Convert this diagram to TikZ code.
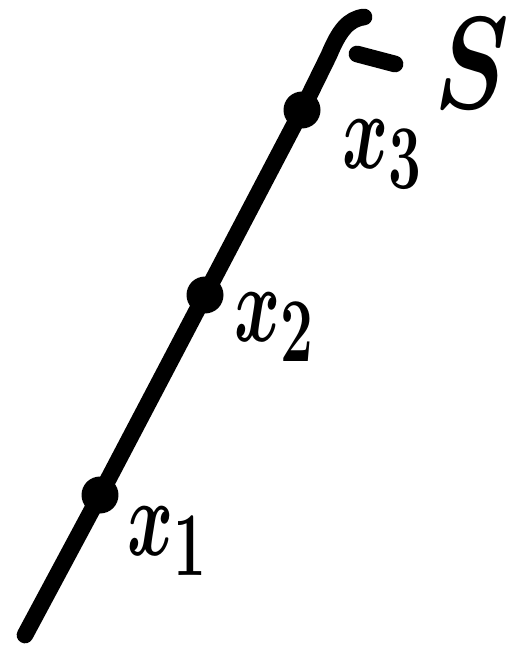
\documentclass[tikz,border=0pt]{standalone}
\usepackage{amsmath,amssymb}
\usepackage{tikz}
\usetikzlibrary{calc}
\tikzset{
  curve/.style ={line width=9.5pt,line cap=round,line join=round},
  pt/.style    ={circle,fill=black,minimum size=0.74cm,inner sep=0pt},
  lab/.style   ={inner sep=0pt,xscale=1.6,yscale=2.5,font=\Huge\boldmath},
  setlab/.style={inner sep=0pt,xscale=2.3,yscale=3.0,font=\Huge\boldmath},
}

\begin{document}
\begin{tikzpicture}[x=0.02cm,y=-0.02cm]
  \useasboundingbox (0,0) rectangle (530,651);
  % the set and its points
  \coordinate (bot) at (25,635);
  \coordinate (bend) at (329,55);
  \coordinate (top) at (364,17);
  \foreach \i/\x/\y in {1/100/495,2/205/295,3/302/110}{
     \node[pt] (p\i) at (\x,\y){};
  }
  \draw[curve] (bot)--(p1.center)--(p2.center)--(p3.center)--(bend)
     .. controls (339,31) and (348,19) .. (top);
  % labels
  \node[lab] (l1) at (168,541){$x_1$};
  \node[lab] (l2) at (275,327){$x_2$};
  \node[lab] (l3) at (383,154){$x_3$};
  \coordinate (d1) at (357,54);
  \coordinate (d2) at (395,64);
  \draw[curve] (d1)--(d2);
  \node[setlab] (s) at (472,64){$S$};
\end{tikzpicture}
\end{document}
